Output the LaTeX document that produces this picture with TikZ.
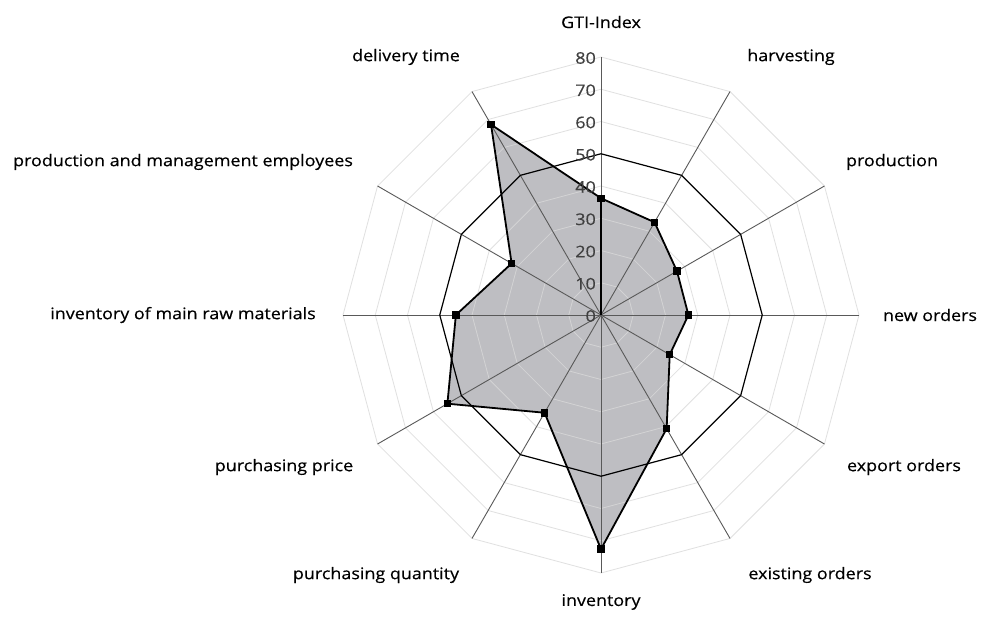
\documentclass[tikz,border=0pt]{standalone}
\usepackage{fontspec}
\setmainfont{Open Sans}[FakeStretch=1.12,FakeBold=0.4]
\usetikzlibrary{calc}
\definecolor{gridc}{RGB}{217,217,217}
\definecolor{spokec}{RGB}{89,89,89}
\definecolor{areac}{RGB}{190,190,194}
\definecolor{tickc}{RGB}{64,64,64}
\begin{document}
\begin{tikzpicture}[x=1bp,y=-1bp,
  gridline/.style={draw=gridc,line width=0.8bp},
  fiftyline/.style={draw=black,line width=1.2bp},
  spoke/.style={draw=spokec,line width=0.9bp},
  dataline/.style={draw=black,line width=1.8bp,line join=miter},
  marker/.style={rectangle,fill=black,inner sep=0pt,minimum size=7.5bp},
  lbl/.style={font=\fontsize{16bp}{19bp}\selectfont,text=black,inner sep=0pt},
  tick/.style={font=\fontsize{16bp}{19bp}\selectfont,text=tickc,inner sep=0pt,anchor=east}]
\useasboundingbox (0,0) rectangle (981,626);
\fill[white] (0,0) rectangle (981,626);
\coordinate (c) at (601,315);
\def\sc{3.225}
% data points
\foreach \v [count=\k from 0] in {36.2,33.2,27.2,27.1,24.6,40.7,72.6,35.0,55.0,45.0,32.0,68.2}
  \coordinate (p\k) at ($(c)+({30*\k-90}:{\v*\sc})$);
% axis ends
\foreach \k in {0,...,11}
  \coordinate (e\k) at ($(c)+({30*\k-90}:{80*\sc})$);
% filled area
\fill[areac] (p0) -- (p1) -- (p2) -- (p3) -- (p4) -- (p5) -- (p6) -- (p7) -- (p8) -- (p9) -- (p10) -- (p11) -- cycle;
% grid
\foreach \l in {10,20,30,40,60,70,80}{
  \draw[gridline,opacity=0.8] ($(c)+(-90:{\l*\sc})$)
    \foreach \i in {1,...,11}{ -- ($(c)+({30*\i-90}:{\l*\sc})$) } -- cycle;
}
% spokes
\foreach \k in {0,...,11}
  \draw[spoke] (c) -- (e\k);
\draw[draw=black,line width=1.8bp] (c) -- (p0);
% level 50
\draw[fiftyline] ($(c)+(-90:{50*\sc})$)
  \foreach \i in {1,...,11}{ -- ($(c)+({30*\i-90}:{50*\sc})$) } -- cycle;
% data outline
\draw[dataline] (p0) -- (p1) -- (p2) -- (p3) -- (p4) -- (p5) -- (p6) -- (p7) -- (p8) -- (p9) -- (p10) -- (p11) -- cycle;
\foreach \k in {0,...,11}
  \node[marker] (m\k) at (p\k) {};
% tick labels
\foreach \l in {0,10,...,80}
  \node[tick] (t\l) at ($(596,316)-(0,{\l*\sc})$) {\l};
% category labels
\node[lbl] (l0) at (601,22) {GTI-Index};
\node[lbl] (l1) at (791,57) {harvesting};
\node[lbl] (l2) at (892,162) {production};
\node[lbl] (l3) at (930,315) {new orders};
\node[lbl] (l4) at (904,467) {export orders};
\node[lbl] (l5) at (810,575) {existing orders};
\node[lbl] (l6) at (601,602) {inventory};
\node[lbl] (l7) at (376,575) {purchasing quantity};
\node[lbl] (l8) at (284,467) {purchasing price};
\node[lbl] (l9) at (183,315) {inventory of main raw materials};
\node[lbl] (l10) at (183,162) {production and management employees};
\node[lbl] (l11) at (406,57) {delivery time};
\end{tikzpicture}
\end{document}
